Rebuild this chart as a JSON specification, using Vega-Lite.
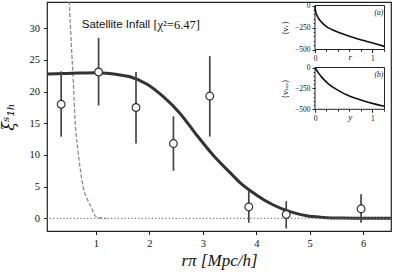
{
  "$schema": "https://vega.github.io/schema/vega-lite/v6.json",
  "width": 344,
  "height": 229,
  "autosize": {"type": "none"},
  "padding": {"left": 47, "top": 2, "right": 8, "bottom": 41},
  "background": "white",
  "config": {
    "view": {"stroke": "#222", "strokeWidth": 1.2},
    "axis": {"grid": false, "domain": false, "tickColor": "#222", "labelColor": "#111", "titleColor": "#111", "labelFont": "Liberation Serif", "titleFont": "Liberation Serif", "titleFontWeight": "normal", "labelFlush": false, "labelOverlap": false}
  },
  "datasets": {
    "points": [
      {"x": 0.35, "y": 18.0, "lo": 12.9, "hi": 23.2},
      {"x": 1.05, "y": 23.1, "lo": 17.8, "hi": 28.5},
      {"x": 1.75, "y": 17.5, "lo": 11.8, "hi": 23.1},
      {"x": 2.45, "y": 11.8, "lo": 7.5, "hi": 16.1},
      {"x": 3.13, "y": 19.3, "lo": 12.9, "hi": 25.6},
      {"x": 3.86, "y": 1.8, "lo": -0.7, "hi": 4.3},
      {"x": 4.56, "y": 0.6, "lo": -1.6, "hi": 2.7},
      {"x": 5.96, "y": 1.5, "lo": -0.7, "hi": 3.8}
    ],
    "model": [
      {"x": 0.085, "y": 22.8}, {"x": 0.4, "y": 22.85}, {"x": 0.7, "y": 22.95}, {"x": 1.0, "y": 23.0},
      {"x": 1.2, "y": 22.9}, {"x": 1.4, "y": 22.7}, {"x": 1.64, "y": 22.35}, {"x": 1.95, "y": 21.2},
      {"x": 2.26, "y": 19.2}, {"x": 2.57, "y": 16.6}, {"x": 2.88, "y": 13.2}, {"x": 3.19, "y": 10.0},
      {"x": 3.5, "y": 7.3}, {"x": 3.7, "y": 5.6}, {"x": 4.0, "y": 3.7}, {"x": 4.32, "y": 2.1},
      {"x": 4.63, "y": 1.05}, {"x": 4.94, "y": 0.4}, {"x": 5.25, "y": 0.15}, {"x": 5.6, "y": 0.04},
      {"x": 6.0, "y": 0.01}, {"x": 6.52, "y": 0.0}
    ],
    "dashed": [
      {"x": 0.47, "y": 40}, {"x": 0.5, "y": 34.5}, {"x": 0.54, "y": 27.5}, {"x": 0.576, "y": 21.8},
      {"x": 0.61, "y": 15.5}, {"x": 0.67, "y": 10.3}, {"x": 0.72, "y": 7.0}, {"x": 0.76, "y": 5.0},
      {"x": 0.84, "y": 3.0}, {"x": 0.92, "y": 1.6}, {"x": 0.97, "y": 0.6}, {"x": 1.01, "y": 0.2},
      {"x": 1.06, "y": 0.05}, {"x": 1.2, "y": 0.0}
    ],
    "va": [
      {"r": 0.0, "v": -5}, {"r": 0.005, "v": -40}, {"r": 0.015, "v": -75}, {"r": 0.03, "v": -105},
      {"r": 0.06, "v": -145}, {"r": 0.1, "v": -180}, {"r": 0.2, "v": -240}, {"r": 0.3, "v": -275},
      {"r": 0.45, "v": -315}, {"r": 0.6, "v": -350}, {"r": 0.75, "v": -380}, {"r": 0.9, "v": -408},
      {"r": 1.05, "v": -435}, {"r": 1.21, "v": -465}
    ],
    "vb": [
      {"y": 0.0, "v": 0}, {"y": 0.05, "v": -55}, {"y": 0.117, "v": -115}, {"y": 0.233, "v": -196},
      {"y": 0.41, "v": -276}, {"y": 0.58, "v": -336}, {"y": 0.81, "v": -392}, {"y": 1.05, "v": -438},
      {"y": 1.21, "v": -463}
    ]
  },
  "layer": [
    {
      "layer": [
        {
          "data": {"name": "dashed"},
          "mark": {"type": "line", "color": "#8a8a8a", "strokeWidth": 1.3, "strokeDash": [4, 2], "interpolate": "monotone", "clip": true},
          "encoding": {
            "x": {"field": "x", "type": "quantitative", "scale": {"domain": [0.085, 6.52], "nice": false, "zero": false},
              "axis": {"orient": "bottom", "values": [1, 2, 3, 4, 5, 6], "format": "d", "labelFont": "Liberation Serif", "labelFontSize": 10.5, "labelOverlap": false, "tickSize": 3.5, "labelPadding": 4, "title": "rπ [Mpc/h]", "titleFont": "Liberation Serif", "titleFontSize": 17, "titleFontStyle": "italic", "titlePadding": 3}},
            "y": {"field": "y", "type": "quantitative", "scale": {"domain": [-2.0, 34.15], "nice": false, "zero": false},
              "axis": {"orient": "left", "values": [0, 30], "format": "d", "labelFont": "Liberation Serif", "labelFontSize": 10.5, "labelOverlap": false, "tickSize": 3.5, "labelPadding": 4, "title": "ξˢ₁ₕ", "titleFont": "DejaVu Serif", "titleFontSize": 16, "titleFontStyle": "italic", "titlePadding": 5, "titleX": -31}}
          }
        },
        {
          "data": {"name": "model"},
          "mark": {"type": "line", "color": "#333333", "strokeWidth": 3, "interpolate": "monotone"},
          "encoding": {"x": {"field": "x", "type": "quantitative"}, "y": {"field": "y", "type": "quantitative"}}
        },
        {
          "data": {"values": [{}]},
          "mark": {"type": "rule", "color": "#777777", "strokeDash": [1.2, 2.2], "strokeWidth": 1.2},
          "encoding": {"y": {"datum": 0}}
        },
        {
          "data": {"name": "points"},
          "mark": {"type": "rule", "color": "#444444", "strokeWidth": 1.7},
          "encoding": {"x": {"field": "x", "type": "quantitative"}, "y": {"field": "lo", "type": "quantitative"}, "y2": {"field": "hi"}}
        },
        {
          "data": {"name": "points"},
          "mark": {"type": "point", "filled": true, "fill": "white", "fillOpacity": 1, "stroke": "#333333", "strokeWidth": 1.2, "size": 60, "opacity": 1},
          "encoding": {"x": {"field": "x", "type": "quantitative"}, "y": {"field": "y", "type": "quantitative"}}
        },
        {
          "data": {"values": [{}]},
          "mark": {"type": "text", "text": "Satellite Infall", "font": "Liberation Sans", "fontSize": 11.5, "align": "left", "baseline": "middle", "color": "#111111"},
          "encoding": {"x": {"datum": 0.735}, "y": {"datum": 30.5}}
        },
        {
          "data": {"values": [{}]},
          "mark": {"type": "text", "text": "[χ²=6.47]", "font": "Liberation Serif", "fontSize": 12.5, "align": "left", "baseline": "middle", "color": "#111111"},
          "encoding": {"x": {"datum": 2.075}, "y": {"datum": 30.5}}
        }
      ]
    },
    {
      "data": {"name": "points"},
      "mark": {"type": "point", "opacity": 0},
      "encoding": {"y": {"field": "y", "type": "quantitative", "scale": {"domain": [-2.0, 34.15], "nice": false, "zero": false},
        "axis": {"orient": "left", "values": [5, 25], "format": "d", "labelFontSize": 10.5, "tickSize": 3.5, "labelPadding": 4, "title": null}}}
    },
    {
      "data": {"name": "points"},
      "mark": {"type": "point", "opacity": 0},
      "encoding": {"y": {"field": "y", "type": "quantitative", "scale": {"domain": [-2.0, 34.15], "nice": false, "zero": false},
        "axis": {"orient": "left", "values": [10, 20], "format": "d", "labelFontSize": 10.5, "tickSize": 3.5, "labelPadding": 4, "title": null}}}
    },
    {
      "data": {"name": "points"},
      "mark": {"type": "point", "opacity": 0},
      "encoding": {"y": {"field": "y", "type": "quantitative", "scale": {"domain": [-2.0, 34.15], "nice": false, "zero": false},
        "axis": {"orient": "left", "values": [15], "format": "d", "labelFontSize": 10.5, "tickSize": 3.5, "labelPadding": 4, "title": null}}}
    },
    {
      "layer": [
        {
          "data": {"values": [{}]},
          "mark": {"type": "rect", "fill": "white", "stroke": "#222222", "strokeWidth": 1},
          "encoding": {
            "x": {"datum": 0, "type": "quantitative", "scale": {"domain": [0, 1.21], "range": [268, 337.5], "nice": false, "zero": false},
              "axis": {"orient": "bottom", "offset": -181.5, "values": [0, 1], "format": "d", "tickSize": 3, "labelFont": "Liberation Serif", "labelFontSize": 7.5, "labelOverlap": false, "labelPadding": 2, "title": "r", "titleFont": "Liberation Serif", "titleFontStyle": "italic", "titleFontSize": 9, "titlePadding": -9.5}},
            "x2": {"datum": 1.21},
            "y": {"datum": -500, "type": "quantitative", "scale": {"domain": [-500, 0], "range": [47.5, 3.5], "nice": false, "zero": false},
              "axis": {"orient": "left", "offset": -268, "values": [-500, 0], "format": "d", "tickSize": 3, "labelFont": "Liberation Serif", "labelFontSize": 7.5, "labelOverlap": false, "labelPadding": 2, "title": "⟨vᵣ⟩", "titleFont": "DejaVu Serif", "titleFontSize": 8, "titlePadding": 1, "titleX": -26}},
            "y2": {"datum": 0}
          }
        },
        {
          "data": {"name": "va"},
          "mark": {"type": "line", "color": "#111111", "strokeWidth": 1.6, "interpolate": "monotone"},
          "encoding": {"x": {"field": "r", "type": "quantitative"}, "y": {"field": "v", "type": "quantitative"}}
        },
        {
          "data": {"values": [{}]},
          "mark": {"type": "text", "text": "(a)", "font": "Liberation Serif", "fontStyle": "italic", "fontSize": 7.5, "align": "right", "baseline": "middle", "color": "#111111"},
          "encoding": {"x": {"datum": 1.19}, "y": {"datum": -90}}
        }
      ]
    },
    {
      "data": {"name": "va"},
      "mark": {"type": "point", "opacity": 0},
      "encoding": {"y": {"field": "v", "type": "quantitative", "scale": {"domain": [-500, 0], "range": [47.5, 3.5], "nice": false, "zero": false},
        "axis": {"orient": "left", "offset": -268, "values": [-250], "format": "d", "tickSize": 3, "labelFontSize": 7.5, "labelPadding": 2, "title": null, "zindex": 2}}}
    },
    {
      "data": {"name": "va"},
      "mark": {"type": "point", "opacity": 0},
      "encoding": {
        "x": {"field": "r", "type": "quantitative", "scale": {"domain": [0, 1.21], "range": [268, 337.5], "nice": false, "zero": false},
          "axis": {"orient": "bottom", "offset": -181.5, "values": [0.2, 0.4], "labels": false, "tickSize": 1.8, "title": null}},
        "y": {"field": "v", "type": "quantitative", "scale": {"domain": [-500, 0], "range": [47.5, 3.5], "nice": false, "zero": false},
          "axis": {"orient": "left", "offset": -268, "values": [-450, -400], "labels": false, "tickSize": 1.8, "title": null}}
      }
    },
    {
      "data": {"name": "va"},
      "mark": {"type": "point", "opacity": 0},
      "encoding": {
        "x": {"field": "r", "type": "quantitative", "scale": {"domain": [0, 1.21], "range": [268, 337.5], "nice": false, "zero": false},
          "axis": {"orient": "bottom", "offset": -181.5, "values": [0.6, 0.8], "labels": false, "tickSize": 1.8, "title": null}},
        "y": {"field": "v", "type": "quantitative", "scale": {"domain": [-500, 0], "range": [47.5, 3.5], "nice": false, "zero": false},
          "axis": {"orient": "left", "offset": -268, "values": [-350, -300], "labels": false, "tickSize": 1.8, "title": null}}
      }
    },
    {
      "data": {"name": "va"},
      "mark": {"type": "point", "opacity": 0},
      "encoding": {
        "x": {"field": "r", "type": "quantitative", "scale": {"domain": [0, 1.21], "range": [268, 337.5], "nice": false, "zero": false},
          "axis": {"orient": "bottom", "offset": -181.5, "values": [1.2], "labels": false, "tickSize": 1.8, "title": null}},
        "y": {"field": "v", "type": "quantitative", "scale": {"domain": [-500, 0], "range": [47.5, 3.5], "nice": false, "zero": false},
          "axis": {"orient": "left", "offset": -268, "values": [-200, -150], "labels": false, "tickSize": 1.8, "title": null}}
      }
    },
    {
      "data": {"name": "va"},
      "mark": {"type": "point", "opacity": 0},
      "encoding": {
        "y": {"field": "v", "type": "quantitative", "scale": {"domain": [-500, 0], "range": [47.5, 3.5], "nice": false, "zero": false},
          "axis": {"orient": "left", "offset": -268, "values": [-100, -50], "labels": false, "tickSize": 1.8, "title": null}}
      }
    },
    {
      "layer": [
        {
          "data": {"values": [{}]},
          "mark": {"type": "rect", "fill": "white", "stroke": "#222222", "strokeWidth": 1},
          "encoding": {
            "x": {"datum": 0, "type": "quantitative", "scale": {"domain": [0, 1.21], "range": [268, 337.5], "nice": false, "zero": false},
              "axis": {"orient": "bottom", "offset": -121.7, "values": [0, 1], "format": "d", "tickSize": 3, "labelFont": "Liberation Serif", "labelFontSize": 7.5, "labelOverlap": false, "labelPadding": 2, "title": "y", "titleFont": "Liberation Serif", "titleFontStyle": "italic", "titleFontSize": 9, "titlePadding": -9.5}},
            "x2": {"datum": 1.21},
            "y": {"datum": -500, "type": "quantitative", "scale": {"domain": [-500, 0], "range": [107.3, 65.5], "nice": false, "zero": false},
              "axis": {"orient": "left", "offset": -268, "values": [-500, 0], "format": "d", "tickSize": 3, "labelFont": "Liberation Serif", "labelFontSize": 7.5, "labelOverlap": false, "labelPadding": 2, "title": "⟨vₗₒₛ⟩", "titleFont": "DejaVu Serif", "titleFontSize": 8, "titlePadding": 1, "titleX": -26}},
            "y2": {"datum": 0}
          }
        },
        {
          "data": {"name": "vb"},
          "mark": {"type": "line", "color": "#111111", "strokeWidth": 1.6, "interpolate": "monotone"},
          "encoding": {"x": {"field": "y", "type": "quantitative"}, "y": {"field": "v", "type": "quantitative"}}
        },
        {
          "data": {"values": [{}]},
          "mark": {"type": "text", "text": "(b)", "font": "Liberation Serif", "fontStyle": "italic", "fontSize": 7.5, "align": "right", "baseline": "middle", "color": "#111111"},
          "encoding": {"x": {"datum": 1.19}, "y": {"datum": -90}}
        }
      ]
    },
    {
      "data": {"name": "vb"},
      "mark": {"type": "point", "opacity": 0},
      "encoding": {"y": {"field": "v", "type": "quantitative", "scale": {"domain": [-500, 0], "range": [107.3, 65.5], "nice": false, "zero": false},
        "axis": {"orient": "left", "offset": -268, "values": [-250], "format": "d", "tickSize": 3, "labelFontSize": 7.5, "labelPadding": 2, "title": null, "zindex": 2}}}
    },
    {
      "data": {"name": "vb"},
      "mark": {"type": "point", "opacity": 0},
      "encoding": {
        "x": {"field": "y", "type": "quantitative", "scale": {"domain": [0, 1.21], "range": [268, 337.5], "nice": false, "zero": false},
          "axis": {"orient": "bottom", "offset": -121.7, "values": [0.2, 0.4], "labels": false, "tickSize": 1.8, "title": null}},
        "y": {"field": "v", "type": "quantitative", "scale": {"domain": [-500, 0], "range": [107.3, 65.5], "nice": false, "zero": false},
          "axis": {"orient": "left", "offset": -268, "values": [-450, -400], "labels": false, "tickSize": 1.8, "title": null}}
      }
    },
    {
      "data": {"name": "vb"},
      "mark": {"type": "point", "opacity": 0},
      "encoding": {
        "x": {"field": "y", "type": "quantitative", "scale": {"domain": [0, 1.21], "range": [268, 337.5], "nice": false, "zero": false},
          "axis": {"orient": "bottom", "offset": -121.7, "values": [0.6, 0.8], "labels": false, "tickSize": 1.8, "title": null}},
        "y": {"field": "v", "type": "quantitative", "scale": {"domain": [-500, 0], "range": [107.3, 65.5], "nice": false, "zero": false},
          "axis": {"orient": "left", "offset": -268, "values": [-350, -300], "labels": false, "tickSize": 1.8, "title": null}}
      }
    },
    {
      "data": {"name": "vb"},
      "mark": {"type": "point", "opacity": 0},
      "encoding": {
        "x": {"field": "y", "type": "quantitative", "scale": {"domain": [0, 1.21], "range": [268, 337.5], "nice": false, "zero": false},
          "axis": {"orient": "bottom", "offset": -121.7, "values": [1.2], "labels": false, "tickSize": 1.8, "title": null}},
        "y": {"field": "v", "type": "quantitative", "scale": {"domain": [-500, 0], "range": [107.3, 65.5], "nice": false, "zero": false},
          "axis": {"orient": "left", "offset": -268, "values": [-200, -150], "labels": false, "tickSize": 1.8, "title": null}}
      }
    },
    {
      "data": {"name": "vb"},
      "mark": {"type": "point", "opacity": 0},
      "encoding": {
        "y": {"field": "v", "type": "quantitative", "scale": {"domain": [-500, 0], "range": [107.3, 65.5], "nice": false, "zero": false},
          "axis": {"orient": "left", "offset": -268, "values": [-100, -50], "labels": false, "tickSize": 1.8, "title": null}}
      }
    }
  ],
  "resolve": {"scale": {"x": "independent", "y": "independent"}}
}
